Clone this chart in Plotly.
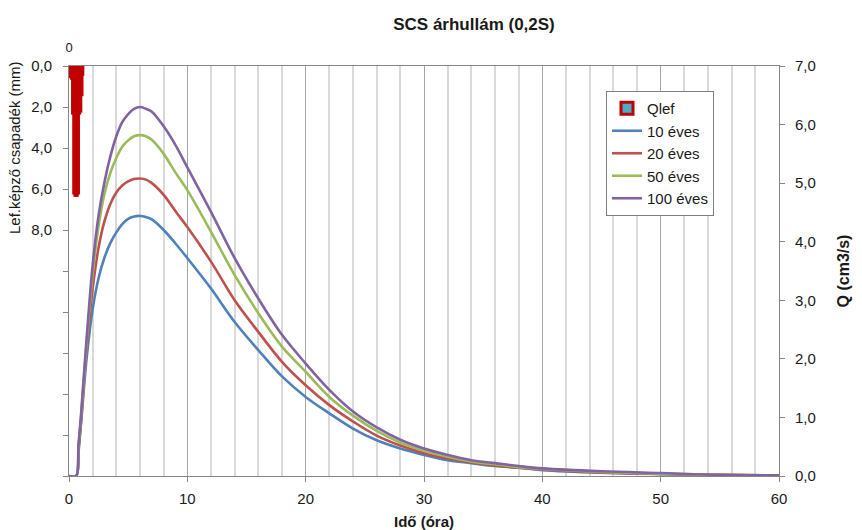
import plotly.graph_objects as go

# Effective rainfall (Qlef) hyetograph, mm per 0.1 h step
rain_t = [0.05, 0.15, 0.25, 0.35, 0.45, 0.55, 0.65, 0.75, 0.85, 0.95, 1.05, 1.12]
rain_mm = [0.5, 0.5, 0.6, 2.3, 6.2, 6.3, 6.3, 6.2, 2.3, 2.2, 1.4, 0.4]

# Flood hydrographs (Q, cm3/s) for different return periods
t = [0, 0.6, 0.8, 1, 1.5, 2, 2.5, 3, 3.5, 4, 4.5, 5, 5.5, 6, 6.5, 7, 8, 9, 10,
     12, 14, 16, 18, 20, 22, 24, 26, 28, 30, 32, 34, 36, 38, 40, 45, 50, 55, 60]
q10 = [0, 0, 0.4, 0.85, 2.03, 2.85, 3.38, 3.73, 3.98, 4.16, 4.30, 4.39, 4.43, 4.44,
       4.42, 4.38, 4.2, 3.97, 3.72, 3.2, 2.63, 2.15, 1.70, 1.35, 1.07, 0.81, 0.61,
       0.47, 0.36, 0.27, 0.22, 0.17, 0.14, 0.10, 0.055, 0.03, 0.015, 0.01]
q20 = [0, 0, 0.45, 0.9, 2.2, 3.2, 3.9, 4.35, 4.65, 4.84, 4.96, 5.03, 5.07, 5.08,
       5.06, 5.0, 4.8, 4.52, 4.25, 3.66, 3.0, 2.46, 1.95, 1.55, 1.21, 0.93, 0.69,
       0.52, 0.39, 0.30, 0.23, 0.18, 0.14, 0.11, 0.06, 0.035, 0.02, 0.01]
q50 = [0, 0, 0.5, 0.95, 2.3, 3.45, 4.27, 4.82, 5.18, 5.43, 5.62, 5.73, 5.80, 5.82,
       5.80, 5.74, 5.5, 5.18, 4.88, 4.17, 3.43, 2.78, 2.21, 1.78, 1.35, 1.03, 0.77,
       0.57, 0.43, 0.33, 0.25, 0.20, 0.15, 0.12, 0.07, 0.04, 0.02, 0.01]
q100 = [0, 0, 0.53, 1.0, 2.38, 3.6, 4.45, 5.02, 5.46, 5.8, 6.04, 6.18, 6.27, 6.30,
        6.27, 6.22, 5.97, 5.65, 5.27, 4.51, 3.72, 3.03, 2.41, 1.92, 1.47, 1.10, 0.83,
        0.62, 0.47, 0.36, 0.27, 0.22, 0.17, 0.13, 0.08, 0.05, 0.02, 0.01]

series = [("10 éves", q10, "#4F81BD"), ("20 éves", q20, "#C0504D"),
          ("50 éves", q50, "#9BBB59"), ("100 éves", q100, "#8064A2")]

left_ticks = [0, 2, 4, 6, 8, 10, 12, 14, 16, 18, 20]
left_labels = ["0,0", "2,0", "4,0", "6,0", "8,0", "", "", "", "", "", ""]

FONT = "Liberation Sans, Arial, sans-serif"
AX = "#868686"

fig = go.Figure()
# rainfall bars: top time axis (x2) and reversed left depth axis (y2)
fig.add_trace(go.Bar(
    x=rain_t, y=rain_mm, width=0.1, name="Qlef",
    marker=dict(color="#4BACC6", line=dict(color="#C00000", width=3)),
    xaxis="x2", yaxis="y2",
))
# hydrographs: bottom time axis (x) and right discharge axis (y)
for name, q, col in series:
    fig.add_trace(go.Scatter(
        x=t, y=q, name=name, mode="lines",
        line=dict(color=col, width=2.6, shape="spline", smoothing=1.0),
        xaxis="x", yaxis="y",
    ))

fig.update_layout(
    width=862, height=530,
    margin=dict(l=69, r=83, t=66, b=54),
    paper_bgcolor="white", plot_bgcolor="white",
    separators=", ",
    font=dict(family=FONT, size=14, color="#1a1a1a"),
    showlegend=True,
    title=dict(text="<b>SCS árhullám (0,2S)</b>", x=474 / 862, xanchor="center",
               y=1 - 24 / 530, yanchor="middle", font=dict(size=17, color="#1a1a1a")),
    xaxis=dict(
        range=[0, 60], dtick=10, tick0=0, showline=True, linecolor=AX, linewidth=1,
        ticks="outside", ticklen=5, tickcolor=AX, showgrid=True, gridcolor="#A6A6A6",
        gridwidth=1, zeroline=False, ticklabelstandoff=4, automargin=False,
        minor=dict(dtick=2, showgrid=True, gridcolor="#D9D9D9", gridwidth=1.5),
        title=dict(text="<b>Idő (óra)</b>", font=dict(size=15), standoff=10),
        tickfont=dict(size=15),
    ),
    xaxis2=dict(
        range=[0, 60], overlaying="x", side="top", anchor="y2",
        tickvals=[0], ticktext=["0"], ticklabelstandoff=8, automargin=False,
        showline=True, linecolor=AX, showgrid=False, zeroline=False,
        ticks="", tickfont=dict(size=13),
    ),
    yaxis=dict(
        range=[0, 7], dtick=1, tickformat=".1f", side="right",
        showline=True, linecolor=AX, linewidth=1, ticks="outside", ticklen=5,
        tickcolor=AX, showgrid=False, zeroline=False, tickfont=dict(size=15),
        ticklabelstandoff=7, automargin=False,
        title=dict(text="<b>Q (cm3/s)</b>", font=dict(size=16), standoff=22),
    ),
    yaxis2=dict(
        range=[20, 0], tickvals=left_ticks, ticktext=left_labels,
        overlaying="y", side="left", anchor="x2",
        showline=True, linecolor=AX, linewidth=1, ticks="outside", ticklen=5,
        tickcolor=AX, showgrid=False, zeroline=False, tickfont=dict(size=15),
        ticklabelstandoff=8, automargin=False,
    ),
    legend=dict(
        x=(606 - 69) / 710, y=(476 - 91) / 410, xanchor="left", yanchor="top",
        bgcolor="white", bordercolor="#7F7F7F", borderwidth=1,
        font=dict(size=15), tracegroupgap=0, itemwidth=30,
    ),
    annotations=[dict(
        text="Lef.képző csapadék (mm)", textangle=-90, showarrow=False,
        xref="paper", yref="paper", x=-55 / 710, y=(476 - 148) / 410,
        xanchor="center", yanchor="middle", font=dict(size=15),
    )],
)

fig.write_html("out.html")
